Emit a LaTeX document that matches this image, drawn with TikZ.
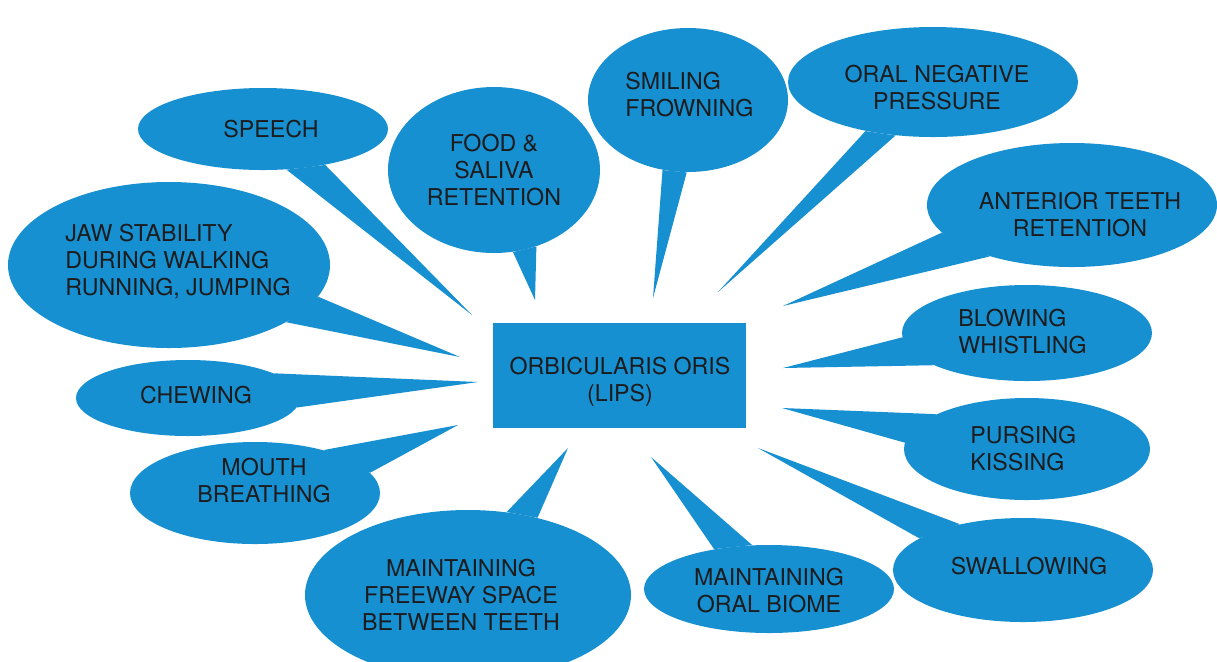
\documentclass[tikz,border=0pt]{standalone}
\usepackage{fontspec}
\setmainfont{TeX Gyre Heros}
\usetikzlibrary{shapes.geometric}
\definecolor{lipblue}{RGB}{22,144,208}
\definecolor{inkgray}{RGB}{28,28,30}

\begin{document}
\begin{tikzpicture}[
        x=0.5pt, y=-0.5pt, font=\fontsize{11.6}{13.5}\selectfont,
        bubble/.style={ellipse, fill=lipblue, inner sep=0pt},
        hub/.style={rectangle, fill=lipblue, inner sep=0pt,
            minimum width=126.5pt, minimum height=52.5pt},
        txt/.style={align=center, inner sep=0pt, text=inkgray},
        tail/.style={fill=lipblue}]
        \useasboundingbox (0,0) rectangle (1217,661);
        \fill[white] (0,0) rectangle (1217,661);
        \clip (0,0) rectangle (1217,661);

        \node[hub] (lips) at (619.5,375.5) {};
        \node[bubble, minimum width=125pt, minimum height=41pt] (speech) at (263,129) {};
        \node[bubble, minimum width=106pt, minimum height=83pt] (food) at (494,170) {};
        \node[bubble, minimum width=100pt, minimum height=72pt] (smile) at (688,100) {};
        \node[bubble, minimum width=145pt, minimum height=55pt] (press) at (933,82) {};
        \node[bubble, minimum width=145pt, minimum height=62pt] (front) at (1072,205) {};
        \node[bubble, minimum width=161pt, minimum height=83pt] (jaw) at (169,265) {};
        \node[bubble, minimum width=112pt, minimum height=38pt] (chew) at (188,398) {};
        \node[bubble, minimum width=125pt, minimum height=51pt] (breath) at (255,493) {};
        \node[bubble, minimum width=163pt, minimum height=85pt] (free) at (468,595) {};
        \node[bubble, minimum width=125pt, minimum height=44pt] (biome) at (769,589) {};
        \node[bubble, minimum width=130pt, minimum height=52pt] (swallow) at (1023,570) {};
        \node[bubble, minimum width=123pt, minimum height=51pt] (purse) at (1027,449) {};
        \node[bubble, minimum width=125pt, minimum height=48pt] (blow) at (1027,333) {};

        \coordinate (speech-tip) at (472,315);
        \coordinate (food-tip) at (535,300);
        \coordinate (smile-tip) at (653,298);
        \coordinate (press-tip) at (718,292);
        \coordinate (front-tip) at (783,306);
        \coordinate (jaw-tip) at (460,357);
        \coordinate (chew-tip) at (478,382);
        \coordinate (breath-tip) at (458,425);
        \coordinate (free-tip) at (568,448);
        \coordinate (biome-tip) at (651,457);
        \coordinate (swallow-tip) at (758,448);
        \coordinate (purse-tip) at (782,408);
        \coordinate (blow-tip) at (783,368);

        \foreach \b/\p/\q in {speech/-60/-30, food/-77/-61, smile/-110/-91,
            press/-144/-125, front/-168/-148, jaw/-12/-26, chew/16/-5,
            breath/32/10, free/65/48, biome/144/111, swallow/163/144,
            purse/159/177, blow/-178/-161}
            \fill[tail] (\b.\p) -- (\b-tip) -- (\b.\q) -- cycle;

        \node[txt] (lips-t) at (620,382) {ORBICULARIS ORIS\\ (LIPS)};
        \node[txt] (speech-t) at (271,129) {SPEECH};
        \node[txt] (food-t) at (494,170) {FOOD \&\\ SALIVA\\ RETENTION};
        \node[txt, align=left, anchor=west] (smile-t) at (625,95) {SMILING\\ FROWNING};
        \node[txt] (press-t) at (937,88) {ORAL NEGATIVE\\ PRESSURE};
        \node[txt] (front-t) at (1080,215) {ANTERIOR TEETH\\ RETENTION};
        \node[txt, align=left, anchor=west] (jaw-t) at (65,262) {JAW STABILITY\\ DURING WALKING\\ RUNNING, JUMPING};
        \node[txt] (chew-t) at (196,395) {CHEWING};
        \node[txt] (breath-t) at (264,481) {MOUTH\\ BREATHING};
        \node[txt] (free-t) at (461,595) {MAINTAINING\\ FREEWAY SPACE\\ BETWEEN TEETH};
        \node[txt] (biome-t) at (769,591) {MAINTAINING\\ ORAL BIOME};
        \node[txt] (swallow-t) at (1029,566) {SWALLOWING};
        \node[txt, align=left, anchor=west] (purse-t) at (970,449) {PURSING\\ KISSING};
        \node[txt, align=left, anchor=west] (blow-t) at (958,332) {BLOWING\\ WHISTLING};
    \end{tikzpicture}
\end{document}
